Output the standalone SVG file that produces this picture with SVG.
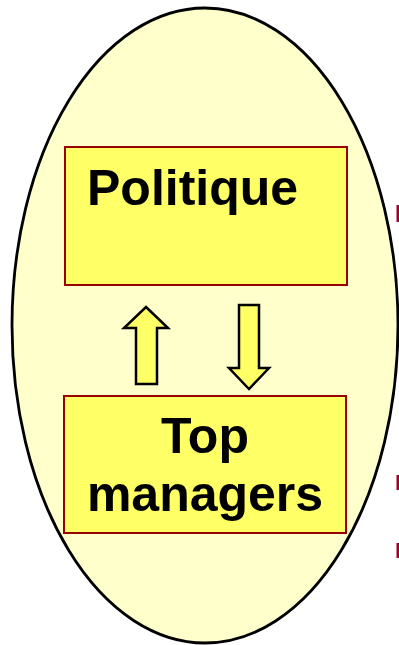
<svg xmlns="http://www.w3.org/2000/svg" width="399" height="645" viewBox="0 0 399 645">
  <style>
    .box { fill: #FFFF66; stroke: #990000; stroke-width: 2; }
    .label { font-family: "Liberation Sans", Arial, sans-serif; font-weight: bold; font-size: 50px; fill: #000000; }
    .arrow { fill: #FFFF66; stroke: #000000; stroke-width: 2.5; stroke-linejoin: miter; }
    .tick { fill: #A0002A; }
  </style>
  <rect width="399" height="645" fill="#FFFFFF"/>

  <!-- enclosing ellipse -->
  <g id="scope">
    <ellipse cx="205" cy="325.5" rx="193" ry="317.5" fill="#FFFFCC" stroke="#000000" stroke-width="2.8"/>
  </g>

  <g id="politique">
    <rect class="box" x="65" y="147" width="282" height="138"/>
    <text class="label" x="87" y="205">Politique</text>
  </g>

  <g id="top-managers">
    <rect class="box" x="64" y="396" width="282" height="137"/>
    <text class="label" x="205" y="453" text-anchor="middle">Top</text>
    <text class="label" x="205" y="511" text-anchor="middle">managers</text>
  </g>

  <g id="connectors">
    <!-- upward arrow -->
    <polygon class="arrow" points="146,307 168,328 157,328 157,384 136,384 136,328 124,328"/>
    <!-- downward arrow -->
    <polygon class="arrow" points="239,305 259,305 259,368 269,368 249,389 229,368 239,368"/>
  </g>

  <!-- marks at the right edge -->
  <g id="edge-marks">
    <rect class="tick" x="396.5" y="205" width="2.5" height="17"/>
    <rect class="tick" x="396.5" y="475" width="2.5" height="15"/>
    <rect class="tick" x="396.5" y="543" width="2.5" height="15"/>
  </g>
</svg>
